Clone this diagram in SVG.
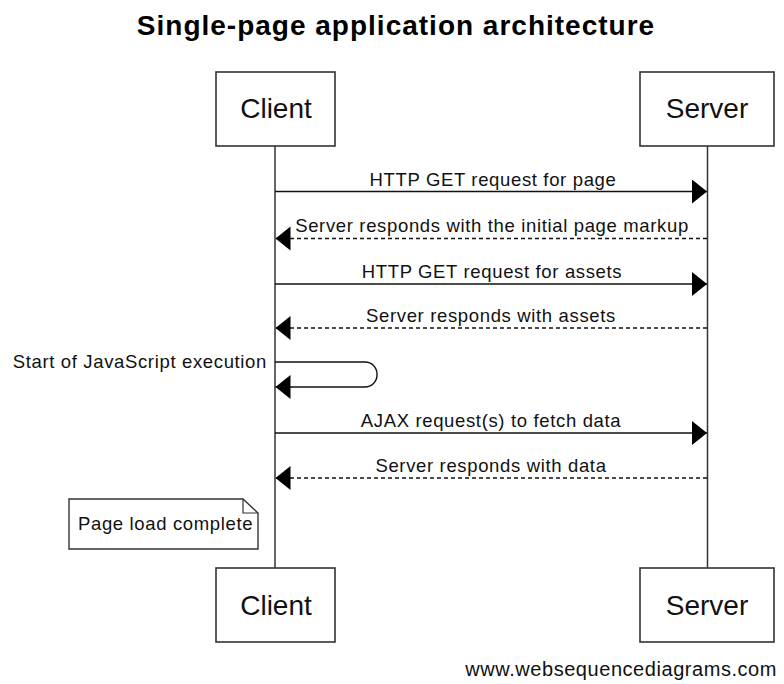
<svg xmlns="http://www.w3.org/2000/svg" width="784" height="684" viewBox="0 0 784 684">
<style>
.box{fill:#fff;stroke:#333;stroke-width:1.6}
.life{stroke:#333;stroke-width:1.5;fill:none}
.msg{stroke:#111;stroke-width:1.4;fill:none;marker-end:url(#ah)}
.dash{stroke-dasharray:4,3}
.pt{font-family:"Liberation Sans",Arial,sans-serif;font-size:28px;fill:#111;text-anchor:middle}
.mt{font-family:"Liberation Sans",Arial,sans-serif;font-size:18.5px;letter-spacing:0.65px;fill:#111;text-anchor:middle}
.title{font-family:"Liberation Sans",Arial,sans-serif;font-size:28px;font-weight:bold;letter-spacing:1px;fill:#000;text-anchor:middle}
</style>
<defs>
<marker id="ah" markerUnits="userSpaceOnUse" markerWidth="16" markerHeight="26" refX="15" refY="12" orient="auto">
<path d="M0,0 L15,12 L0,24 z" fill="#000"/>
</marker>
</defs>
<rect width="784" height="684" fill="#fff"/>
<text class="title" x="396" y="35">Single-page application architecture</text>
<g id="lifelines">
<line class="life" x1="275" y1="146" x2="275" y2="568"/>
<line class="life" x1="707.5" y1="146" x2="707.5" y2="568"/>
</g>
<g id="client-top"><rect class="box" x="216" y="72" width="119" height="74"/><text class="pt" x="276" y="118">Client</text></g>
<g id="server-top"><rect class="box" x="640" y="72" width="134" height="74"/><text class="pt" x="707" y="118">Server</text></g>
<g id="client-bottom"><rect class="box" x="216" y="568" width="119" height="74"/><text class="pt" x="276" y="615">Client</text></g>
<g id="server-bottom"><rect class="box" x="640" y="568" width="134" height="74"/><text class="pt" x="707" y="615">Server</text></g>
<g id="connectors">
<line class="msg" x1="275" y1="191.5" x2="707" y2="191.5"/>
<text class="mt" x="493" y="186">HTTP GET request for page</text>
<line class="msg dash" x1="707" y1="238.5" x2="275.5" y2="238.5"/>
<text class="mt" x="492" y="232">Server responds with the initial page markup</text>
<line class="msg" x1="275" y1="284" x2="707" y2="284"/>
<text class="mt" x="492" y="278">HTTP GET request for assets</text>
<line class="msg dash" x1="707" y1="328" x2="275.5" y2="328"/>
<text class="mt" x="491" y="322">Server responds with assets</text>
<path class="msg" d="M275,362 H365 A12,12 0 0 1 377,374 V375 A12,12 0 0 1 365,387 H275.5"/>
<text class="mt" x="267" y="368" style="text-anchor:end">Start of JavaScript execution</text>
<line class="msg" x1="275" y1="433" x2="707" y2="433"/>
<text class="mt" x="491" y="427">AJAX request(s) to fetch data</text>
<line class="msg dash" x1="707" y1="478" x2="275.5" y2="478"/>
<text class="mt" x="491" y="472">Server responds with data</text>
</g>
<g id="note">
<path d="M69,499 H243 L258,513 V549 H69 Z" fill="#fff" stroke="#333" stroke-width="1.4"/>
<path d="M243,499 V513 H258" fill="none" stroke="#333" stroke-width="1.2"/>
<text class="mt" x="78" y="530" style="text-anchor:start">Page load complete</text>
</g>
<text x="777" y="676" style="font-family:'Liberation Sans',Arial,sans-serif;font-size:20px;letter-spacing:0.55px;fill:#111;text-anchor:end">www.websequencediagrams.com</text>
</svg>
